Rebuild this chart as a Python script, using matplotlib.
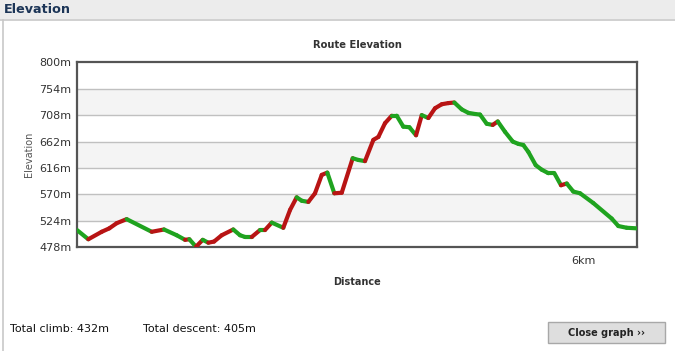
import matplotlib
matplotlib.use('Agg')
import matplotlib.pyplot as plt
from matplotlib.patches import Rectangle
from matplotlib.lines import Line2D

# route profile
distance_km = [0.000, 0.134, 0.293, 0.383, 0.471, 0.589, 0.886, 1.032, 1.182, 1.281,
               1.332, 1.411, 1.491, 1.557, 1.625, 1.716, 1.853, 1.933, 1.992, 2.072,
               2.170, 2.229, 2.309, 2.446, 2.526, 2.605, 2.665, 2.743, 2.822, 2.902,
               2.968, 3.051, 3.139, 3.269, 3.336, 3.415, 3.514, 3.573, 3.652, 3.732,
               3.791, 3.869, 3.941, 4.020, 4.088, 4.166, 4.245, 4.325, 4.403, 4.474,
               4.562, 4.640, 4.720, 4.779, 4.858, 4.929, 4.989, 5.075, 5.167, 5.233,
               5.292, 5.352, 5.439, 5.511, 5.589, 5.660, 5.739, 5.807, 5.885, 5.965,
               6.122, 6.340, 6.419, 6.518, 6.637]
elevation_m = [508, 492, 505, 511, 520, 527, 505, 509, 499, 491,
               492, 479, 491, 486, 488, 499, 509, 499, 496, 496,
               508, 508, 521, 512, 543, 565, 559, 557, 572, 604,
               608, 572, 573, 633, 630, 628, 665, 670, 694, 707,
               707, 688, 687, 673, 708, 703, 720, 727, 729, 730,
               718, 712, 710, 709, 693, 691, 697, 679, 662, 658,
               656, 644, 621, 613, 607, 607, 586, 589, 575, 572,
               555, 528, 515, 512, 511]

y_ticks = [478, 524, 570, 616, 662, 708, 754, 800]
x_ticks = [6]
x_tick_labels = ['6km']
total_climb = 432
total_descent = 405

UP = '#b81414'
DOWN = '#1fa31f'

fig = plt.figure(figsize=(6.75, 3.51), dpi=100)
fig.patch.set_facecolor('white')
W, H = 675.0, 351.0

def fx(px):
    return px / W

def fy(py):
    return 1 - py / H

# header band + panel border
fig.patches.append(Rectangle((0, fy(19)), 1, 19 / H, transform=fig.transFigure,
                             facecolor='#ececec', edgecolor='none', zorder=0))
fig.lines.append(Line2D([0, 1], [fy(19.5), fy(19.5)], transform=fig.transFigure,
                        color='#c8c8c8', lw=1.2))
fig.lines.append(Line2D([fx(2.5), fx(2.5)], [fy(19.5), 0], transform=fig.transFigure,
                        color='#c8c8c8', lw=1.2))
fig.text(fx(4), fy(9.5), 'Elevation', fontsize=9.2, fontweight='bold',
         color='#1c3557', ha='left', va='center')

ax = fig.add_axes([fx(77), fy(247.3), fx(637) - fx(77), fy(62.3) - fy(247.3)])
ax.set_xlim(0, 6.64)
ax.set_ylim(y_ticks[0], y_ticks[-1])

# alternating bands and grid
step = y_ticks[1] - y_ticks[0]
for i in range(len(y_ticks) - 1):
    if i % 2 == 0:
        ax.axhspan(y_ticks[i] + step, y_ticks[i + 1] + step,
                   color='#f4f4f4', zorder=0, lw=0)
for t in y_ticks[1:-1]:
    ax.axhline(t, color='#c0c0c0', lw=1, zorder=1)

# red going up, green going down
for i in range(len(distance_km) - 1):
    c = UP if elevation_m[i + 1] > elevation_m[i] else DOWN
    ax.plot(distance_km[i:i + 2], elevation_m[i:i + 2], color=c, lw=3.0,
            solid_capstyle='round', zorder=3)

ax.set_yticks(y_ticks)
ax.set_yticklabels([f'{t}m' for t in y_ticks])
ax.set_xticks(x_ticks)
ax.set_xticklabels(x_tick_labels)
ax.tick_params(length=0, labelsize=8, labelcolor='#333333')
ax.tick_params(axis='y', pad=4)
ax.tick_params(axis='x', pad=6)
for s in ax.spines.values():
    s.set_color('#555555')
    s.set_linewidth(1.6)

ax.set_title('Route Elevation', fontsize=7.2, fontweight='bold', color='#333333', pad=10)
ax.set_xlabel('Distance', fontsize=7, fontweight='bold', color='#333333', labelpad=8)
ax.set_ylabel('Elevation', fontsize=7, color='#555555', labelpad=4)

fig.text(fx(10), fy(329), f'Total climb: {total_climb}m', fontsize=8, color='#111111',
         ha='left', va='center')
fig.text(fx(143), fy(329), f'Total descent: {total_descent}m', fontsize=8, color='#111111',
         ha='left', va='center')

# close button
fig.patches.append(Rectangle((fx(548), fy(343)), fx(665) - fx(548), (343 - 322) / H,
                             transform=fig.transFigure, facecolor='#dedede',
                             edgecolor='#a8a8a8', lw=1))
fig.text(fx(606), fy(333), 'Close graph \u203a\u203a', fontsize=7, fontweight='bold',
         color='#222222', ha='center', va='center')

fig.savefig('out.png', dpi=100)
